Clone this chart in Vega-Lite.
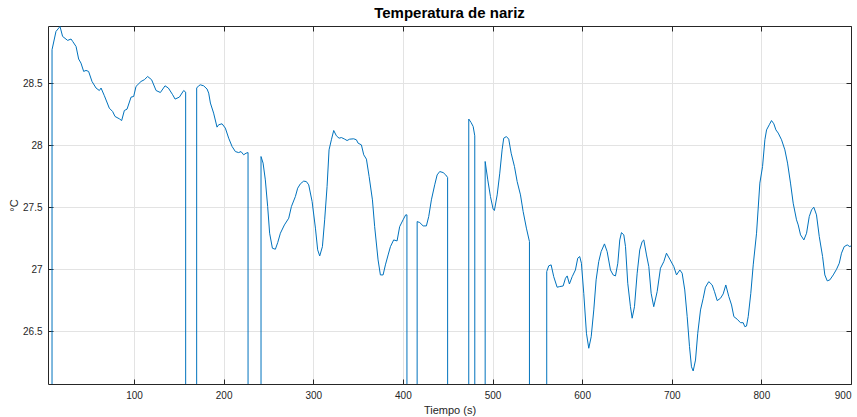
{
  "$schema": "https://vega.github.io/schema/vega-lite/v6.json",
  "autosize": "none",
  "width": 803,
  "height": 358,
  "padding": {"left": 48, "top": 26, "right": 6, "bottom": 33},
  "background": "white",
  "title": {"text": "Temperatura de nariz", "font": "Liberation Sans", "fontSize": 15, "fontWeight": "bold", "color": "#000000", "offset": 5, "anchor": "middle"},
  "config": {
    "view": {"stroke": null},
    "axis": {"labelFont": "Liberation Sans", "titleFont": "Liberation Sans", "labelFontSize": 10, "titleFontSize": 11, "labelColor": "#262626", "titleColor": "#262626", "domainColor": "#262626", "tickColor": "#262626", "gridColor": "#e3e3e3", "titleFontWeight": "normal"}
  },
  "data": {"values": [
    {"t": 8.3, "v": 0}, {"t": 8.5, "v": 28.769}, {"t": 12.9, "v": 28.916}, {"t": 17.4, "v": 28.956}, {"t": 20.3, "v": 28.876}, {"t": 25.9, "v": 28.844}, {"t": 29.7, "v": 28.855}, {"t": 31.5, "v": 28.836}, {"t": 35.3, "v": 28.795}, {"t": 38.2, "v": 28.694}, {"t": 40.8, "v": 28.661}, {"t": 43.8, "v": 28.594}, {"t": 46.4, "v": 28.602}, {"t": 49.3, "v": 28.594}, {"t": 53.1, "v": 28.513}, {"t": 57.6, "v": 28.46}, {"t": 61.3, "v": 28.44}, {"t": 63.2, "v": 28.46}, {"t": 66.9, "v": 28.398}, {"t": 72.4, "v": 28.298}, {"t": 76.1, "v": 28.271}, {"t": 78.8, "v": 28.231}, {"t": 83.6, "v": 28.212}, {"t": 86.2, "v": 28.198}, {"t": 89.2, "v": 28.279}, {"t": 92.2, "v": 28.29}, {"t": 96.7, "v": 28.387}, {"t": 99.6, "v": 28.392}, {"t": 102.2, "v": 28.473}, {"t": 107.8, "v": 28.513}, {"t": 111.5, "v": 28.527}, {"t": 115.2, "v": 28.553}, {"t": 119.6, "v": 28.527}, {"t": 124.6, "v": 28.44}, {"t": 129.4, "v": 28.424}, {"t": 134.6, "v": 28.478}, {"t": 138.3, "v": 28.46}, {"t": 143.1, "v": 28.406}, {"t": 145.8, "v": 28.371}, {"t": 150.6, "v": 28.387}, {"t": 155.4, "v": 28.44}, {"t": 157.6, "v": 28.427}, {"t": 157.8, "v": 0},
    {"t": 169.7, "v": 0}, {"t": 169.9, "v": 28.46}, {"t": 172.1, "v": 28.478}, {"t": 174.0, "v": 28.486}, {"t": 177.7, "v": 28.478}, {"t": 181.5, "v": 28.452}, {"t": 183.3, "v": 28.419}, {"t": 185.2, "v": 28.339}, {"t": 188.8, "v": 28.258}, {"t": 192.6, "v": 28.145}, {"t": 194.4, "v": 28.164}, {"t": 198.2, "v": 28.172}, {"t": 201.9, "v": 28.137}, {"t": 205.6, "v": 28.056}, {"t": 209.4, "v": 27.989}, {"t": 213.1, "v": 27.948}, {"t": 216.7, "v": 27.94}, {"t": 219.4, "v": 27.948}, {"t": 222.3, "v": 27.922}, {"t": 225.0, "v": 27.935}, {"t": 227.2, "v": 27.94}, {"t": 227.5, "v": 0},
    {"t": 241.5, "v": 0}, {"t": 241.7, "v": 27.908}, {"t": 244.0, "v": 27.855}, {"t": 246.5, "v": 27.72}, {"t": 249.1, "v": 27.505}, {"t": 251.3, "v": 27.29}, {"t": 254.4, "v": 27.169}, {"t": 257.7, "v": 27.161}, {"t": 260.3, "v": 27.214}, {"t": 263.3, "v": 27.29}, {"t": 267.8, "v": 27.357}, {"t": 272.6, "v": 27.411}, {"t": 275.6, "v": 27.505}, {"t": 280.0, "v": 27.585}, {"t": 282.6, "v": 27.653}, {"t": 285.6, "v": 27.688}, {"t": 289.3, "v": 27.71}, {"t": 292.3, "v": 27.706}, {"t": 294.9, "v": 27.68}, {"t": 298.7, "v": 27.545}, {"t": 302.4, "v": 27.331}, {"t": 304.9, "v": 27.156}, {"t": 307.2, "v": 27.107}, {"t": 310.2, "v": 27.182}, {"t": 312.7, "v": 27.398}, {"t": 315.4, "v": 27.666}, {"t": 317.6, "v": 27.962}, {"t": 320.2, "v": 28.043}, {"t": 322.8, "v": 28.118}, {"t": 325.8, "v": 28.075}, {"t": 328.8, "v": 28.056}, {"t": 331.4, "v": 28.061}, {"t": 335.1, "v": 28.048}, {"t": 337.7, "v": 28.037}, {"t": 340.6, "v": 28.048}, {"t": 345.1, "v": 28.051}, {"t": 348.1, "v": 28.043}, {"t": 350.0, "v": 28.016}, {"t": 353.7, "v": 28.002}, {"t": 356.3, "v": 27.922}, {"t": 359.3, "v": 27.887}, {"t": 362.3, "v": 27.747}, {"t": 366.0, "v": 27.559}, {"t": 368.5, "v": 27.343}, {"t": 372.3, "v": 27.075}, {"t": 374.9, "v": 26.954}, {"t": 377.9, "v": 26.954}, {"t": 380.5, "v": 27.035}, {"t": 383.5, "v": 27.115}, {"t": 386.1, "v": 27.182}, {"t": 389.7, "v": 27.236}, {"t": 393.5, "v": 27.228}, {"t": 396.4, "v": 27.343}, {"t": 400.2, "v": 27.398}, {"t": 403.1, "v": 27.438}, {"t": 404.5, "v": 27.438}, {"t": 404.7, "v": 0},
    {"t": 415.6, "v": 0}, {"t": 415.9, "v": 27.384}, {"t": 418.8, "v": 27.376}, {"t": 422.6, "v": 27.349}, {"t": 426.2, "v": 27.349}, {"t": 428.8, "v": 27.424}, {"t": 431.8, "v": 27.559}, {"t": 435.5, "v": 27.68}, {"t": 438.2, "v": 27.76}, {"t": 441.1, "v": 27.787}, {"t": 444.9, "v": 27.779}, {"t": 447.8, "v": 27.76}, {"t": 449.9, "v": 27.739}, {"t": 450.1, "v": 0},
    {"t": 473.3, "v": 0}, {"t": 473.5, "v": 28.21}, {"t": 476.1, "v": 28.182}, {"t": 478.4, "v": 28.15}, {"t": 480.2, "v": 28.075}, {"t": 480.5, "v": 0},
    {"t": 491.6, "v": 0}, {"t": 491.8, "v": 27.868}, {"t": 494.7, "v": 27.72}, {"t": 497.7, "v": 27.585}, {"t": 500.7, "v": 27.484}, {"t": 502.1, "v": 27.473}, {"t": 505.2, "v": 27.599}, {"t": 508.1, "v": 27.774}, {"t": 510.7, "v": 27.962}, {"t": 512.5, "v": 28.056}, {"t": 515.5, "v": 28.069}, {"t": 518.1, "v": 28.048}, {"t": 520.8, "v": 27.935}, {"t": 524.5, "v": 27.827}, {"t": 527.5, "v": 27.706}, {"t": 531.2, "v": 27.599}, {"t": 534.2, "v": 27.464}, {"t": 537.8, "v": 27.331}, {"t": 541.2, "v": 27.223}, {"t": 541.4, "v": 0},
    {"t": 560.3, "v": 0}, {"t": 560.5, "v": 26.981}, {"t": 562.7, "v": 27.027}, {"t": 565.4, "v": 27.035}, {"t": 568.3, "v": 26.94}, {"t": 572.1, "v": 26.855}, {"t": 575.0, "v": 26.86}, {"t": 578.8, "v": 26.865}, {"t": 581.4, "v": 26.927}, {"t": 583.3, "v": 26.946}, {"t": 585.8, "v": 26.881}, {"t": 588.9, "v": 26.94}, {"t": 592.5, "v": 26.994}, {"t": 595.1, "v": 27.089}, {"t": 597.3, "v": 27.102}, {"t": 599.2, "v": 27.048}, {"t": 601.8, "v": 26.806}, {"t": 604.8, "v": 26.484}, {"t": 607.4, "v": 26.363}, {"t": 610.1, "v": 26.456}, {"t": 613.0, "v": 26.672}, {"t": 615.6, "v": 26.914}, {"t": 618.5, "v": 27.061}, {"t": 621.2, "v": 27.142}, {"t": 624.9, "v": 27.204}, {"t": 627.9, "v": 27.142}, {"t": 631.6, "v": 26.994}, {"t": 634.6, "v": 26.954}, {"t": 637.2, "v": 26.946}, {"t": 639.8, "v": 27.048}, {"t": 642.0, "v": 27.236}, {"t": 643.9, "v": 27.295}, {"t": 646.5, "v": 27.277}, {"t": 648.4, "v": 27.182}, {"t": 650.9, "v": 26.887}, {"t": 653.9, "v": 26.698}, {"t": 655.8, "v": 26.605}, {"t": 658.4, "v": 26.698}, {"t": 661.4, "v": 26.968}, {"t": 664.3, "v": 27.156}, {"t": 667.0, "v": 27.223}, {"t": 668.8, "v": 27.236}, {"t": 671.8, "v": 27.115}, {"t": 674.4, "v": 27.021}, {"t": 677.0, "v": 26.806}, {"t": 679.9, "v": 26.698}, {"t": 683.7, "v": 26.819}, {"t": 687.4, "v": 27.008}, {"t": 691.1, "v": 27.061}, {"t": 694.1, "v": 27.129}, {"t": 697.8, "v": 27.081}, {"t": 702.3, "v": 27.021}, {"t": 705.3, "v": 26.954}, {"t": 709.0, "v": 26.994}, {"t": 711.6, "v": 26.968}, {"t": 714.5, "v": 26.833}, {"t": 717.2, "v": 26.618}, {"t": 719.8, "v": 26.376}, {"t": 722.0, "v": 26.214}, {"t": 723.9, "v": 26.18}, {"t": 726.5, "v": 26.268}, {"t": 729.0, "v": 26.484}, {"t": 732.1, "v": 26.672}, {"t": 735.1, "v": 26.766}, {"t": 737.6, "v": 26.855}, {"t": 741.3, "v": 26.9}, {"t": 745.1, "v": 26.873}, {"t": 747.7, "v": 26.819}, {"t": 750.7, "v": 26.747}, {"t": 754.4, "v": 26.766}, {"t": 757.4, "v": 26.801}, {"t": 760.3, "v": 26.873}, {"t": 763.7, "v": 26.779}, {"t": 766.7, "v": 26.712}, {"t": 769.3, "v": 26.618}, {"t": 773.0, "v": 26.597}, {"t": 776.7, "v": 26.569}, {"t": 779.7, "v": 26.569}, {"t": 781.5, "v": 26.537}, {"t": 783.4, "v": 26.542}, {"t": 785.3, "v": 26.618}, {"t": 788.2, "v": 26.806}, {"t": 790.9, "v": 27.035}, {"t": 794.6, "v": 27.29}, {"t": 798.3, "v": 27.694}, {"t": 801.3, "v": 27.827}, {"t": 803.9, "v": 28.043}, {"t": 805.8, "v": 28.123}, {"t": 808.8, "v": 28.164}, {"t": 811.3, "v": 28.198}, {"t": 813.9, "v": 28.172}, {"t": 816.2, "v": 28.123}, {"t": 818.8, "v": 28.097}, {"t": 822.5, "v": 28.043}, {"t": 826.2, "v": 27.962}, {"t": 829.2, "v": 27.855}, {"t": 832.5, "v": 27.694}, {"t": 835.5, "v": 27.532}, {"t": 839.2, "v": 27.398}, {"t": 841.1, "v": 27.357}, {"t": 843.7, "v": 27.277}, {"t": 847.4, "v": 27.236}, {"t": 850.4, "v": 27.29}, {"t": 853.4, "v": 27.424}, {"t": 856.0, "v": 27.478}, {"t": 858.5, "v": 27.5}, {"t": 861.5, "v": 27.438}, {"t": 864.6, "v": 27.263}, {"t": 868.3, "v": 27.102}, {"t": 870.8, "v": 26.954}, {"t": 873.5, "v": 26.906}, {"t": 876.4, "v": 26.914}, {"t": 880.2, "v": 26.954}, {"t": 883.9, "v": 27.0}, {"t": 886.9, "v": 27.048}, {"t": 889.4, "v": 27.129}, {"t": 892.4, "v": 27.182}, {"t": 895.8, "v": 27.196}, {"t": 898.7, "v": 27.182}, {"t": 900, "v": 27.188}
  ]},
  "layer": [
    {
      "mark": {"type": "line", "color": "#0072BD", "strokeWidth": 1, "clip": true, "interpolate": "linear"},
      "encoding": {
        "x": {"field": "t", "type": "quantitative", "scale": {"domain": [4, 900], "nice": false, "zero": false},
          "axis": {"orient": "bottom", "title": "Tiempo (s)", "values": [100, 200, 300, 400, 500, 600, 700, 800, 900], "tickSize": -5, "labelPadding": 11, "grid": true, "titlePadding": 4, "domainWidth": 1}},
        "y": {"field": "v", "type": "quantitative", "scale": {"domain": [26.075, 28.96], "nice": false, "zero": false},
          "axis": {"orient": "left", "title": "°C", "values": [26.5, 27, 27.5, 28, 28.5], "format": ".3~g", "tickSize": -5, "labelPadding": 11, "grid": true, "titlePadding": 3}}
      }
    },
    {
      "mark": {"type": "line", "opacity": 0, "clip": true},
      "encoding": {
        "x": {"field": "t", "type": "quantitative", "axis": {"orient": "top", "title": null, "labels": false, "values": [100, 200, 300, 400, 500, 600, 700, 800, 900], "tickSize": -5, "grid": false}},
        "y": {"field": "v", "type": "quantitative", "axis": {"orient": "right", "title": null, "labels": false, "values": [26.5, 27, 27.5, 28, 28.5], "tickSize": -5, "grid": false}}
      }
    }
  ],
  "resolve": {"axis": {"x": "independent", "y": "independent"}}
}
